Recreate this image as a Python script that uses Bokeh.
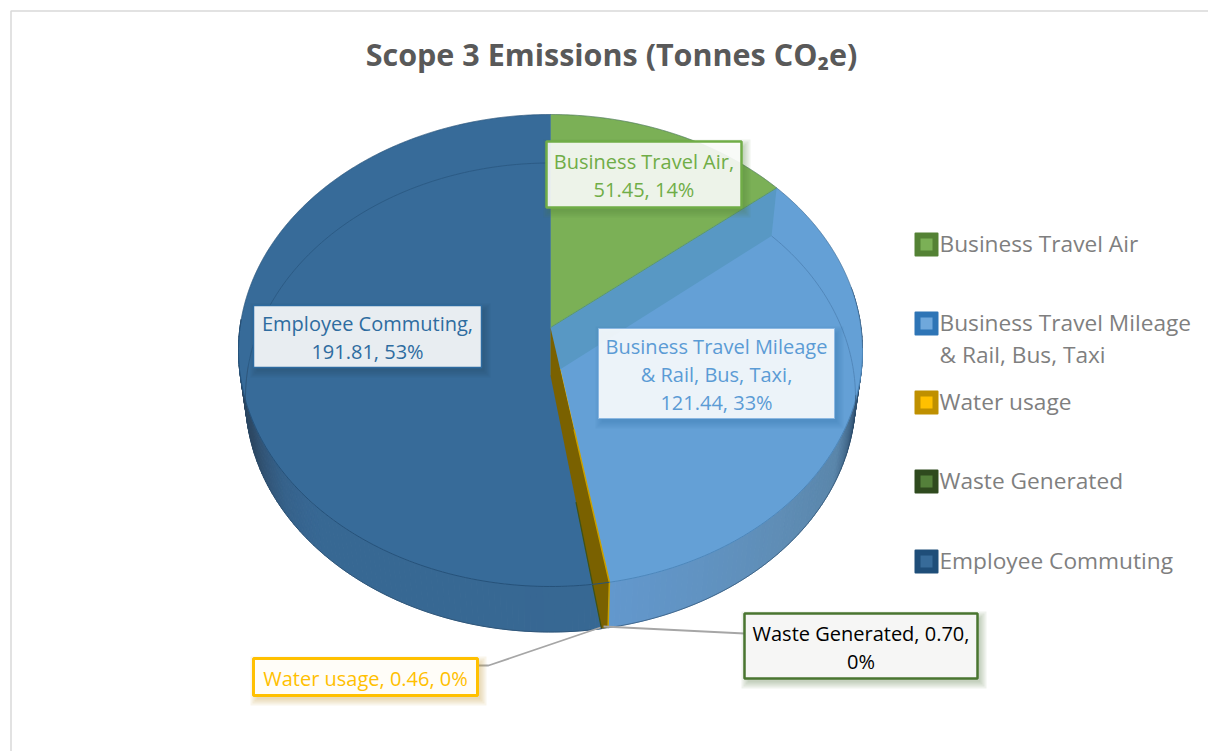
import math
from bokeh.core.properties import value
from bokeh.embed import file_html
from bokeh.models import ColumnDataSource, Range1d
from bokeh.plotting import figure
from bokeh.resources import INLINE

# Scope 3 figures, in pie order (clockwise from twelve o'clock)
categories = ["Business Travel Air", "Business Travel Mileage & Rail, Bus, Taxi",
              "Water usage", "Waste Generated", "Employee Commuting"]
emissions = [51.45, 121.44, 0.46, 0.70, 191.81]
percent_labels = ["14%", "33%", "0%", "0%", "53%"]
title_text = "Scope 3 Emissions (Tonnes CO\u2082e)"

FONT = "Open Sans"
top_colors = ["#7bb056", "#64a0d6", "#ffc000", "#54803a", "#376b99"]
legend_outer = ["#548235", "#2e75b6", "#bf9000", "#2f4a1e", "#1f4e79"]
legend_inner = ["#7bb056", "#6fa8dc", "#ffc000", "#54803a", "#376b99"]

# Projected disc: upper rim, lower rim, and the perspective shift of the hub
CX = 550
TOP_CY, TOP_RX, TOP_RY = 350, 312, 236
LOW_CY, LOW_RX, LOW_RY = 397, 305, 234.5
HUB_SHIFT = 0.097
HUB_TOP = (CX, 327)
HUB_LOW = (CX, 375)


def rim(deg, cy, rx, ry):
    """Project a pie angle (clockwise from north) onto a rim ellipse."""
    t = math.radians(deg)
    e = HUB_SHIFT
    d = 1 + e * math.cos(t)
    return (CX + rx * math.sin(t) * math.sqrt(1 - e * e) / d,
            cy - ry * (math.cos(t) + e) / d)


def upper(deg):
    return rim(deg, TOP_CY, TOP_RX, TOP_RY)


def lower(deg):
    return rim(deg, LOW_CY, LOW_RX, LOW_RY)


def frange(a, b, step=1.0):
    n = max(2, int(abs(b - a) / step) + 1)
    return [a + (b - a) * i / (n - 1) for i in range(n)]


def mix(stops, u):
    for (u0, c0), (u1, c1) in zip(stops, stops[1:]):
        if u <= u1:
            k = (u - u0) / (u1 - u0)
            rgb = [int(int(c0[i:i + 2], 16) * (1 - k) + int(c1[i:i + 2], 16) * k) for i in (1, 3, 5)]
            return "#%02x%02x%02x" % tuple(rgb)
    return stops[-1][1]


total = sum(emissions)
edges = [0.0]
for v in emissions:
    edges.append(edges[-1] + v / total * 360)

p = figure(width=1208, height=751, output_backend="svg", toolbar_location=None,
           x_range=Range1d(0, 1208), y_range=Range1d(751, 0),
           x_axis_type=None, y_axis_type=None, min_border=0,
           outline_line_color=None, background_fill_color="white", border_fill_color="white")
p.grid.visible = False

# Card frame
p.line([10.5, 10.5, 1208], [751, 10.5, 10.5], line_color="#d9d9d9", line_width=1.5)

# Outer wall, shaded along the arc
wall_blue = [(80, "#24405e"), (105, "#2f5070"), (118, "#5a86ab"), (135, "#5f8db5"), (172, "#6399cf")]
wall_navy = [(171, "#376893"), (225, "#386894"), (235, "#36628b"), (250, "#2e4a66"), (272, "#263f58")]
for a, b, stops in [(80, edges[2], wall_blue), (edges[4], 272, wall_navy)]:
    angles = frange(a, b, 1.0)
    xs, ys, cs = [], [], []
    for a0, a1 in zip(angles, angles[1:]):
        pts = [upper(a0), upper(a1), lower(a1), lower(a0)]
        xs.append([q[0] for q in pts])
        ys.append([q[1] for q in pts])
        cs.append(mix(stops, (a0 + a1) / 2))
    p.patches(xs, ys, fill_color=cs, line_color=cs, line_width=1)

# Pie faces, each sweep taken from the emission values
for i in range(len(emissions)):
    arc = [upper(a) for a in frange(edges[i], edges[i + 1], 0.5)]
    p.patch([HUB_TOP[0]] + [q[0] for q in arc], [HUB_TOP[1]] + [q[1] for q in arc],
            fill_color=top_colors[i], line_color=top_colors[i], line_width=0.5)

# Cut face of the blue slice where it leaves the green one
cut = [HUB_TOP, upper(edges[1]), lower(edges[1]), HUB_LOW]
p.patch([q[0] for q in cut], [q[1] for q in cut], fill_color="#5898c4", line_color=None)
p.line([upper(edges[1])[0], HUB_TOP[0]], [upper(edges[1])[1], HUB_TOP[1]], line_color="#5f9a62", line_width=1)

# Cut face along the water and waste slivers
sliver = [HUB_TOP, upper(edges[2]), lower(edges[2]), lower(edges[4]), HUB_LOW]
p.patch([q[0] for q in sliver], [q[1] for q in sliver], fill_color="#7a6100", line_color=None)
rim_a, rim_b = upper(edges[2]), lower(edges[2])
yellow_x = HUB_TOP[0] + (rim_a[0] - HUB_TOP[0]) * 0.4
yellow_y = HUB_TOP[1] + (rim_a[1] - HUB_TOP[1]) * 0.4
p.line([yellow_x, rim_a[0], rim_b[0]], [yellow_y, rim_a[1], rim_b[1]], line_color="#c9a000", line_width=1.5)
end_low = lower(edges[4])
p.line([HUB_LOW[0] + (end_low[0] - HUB_LOW[0]) * 0.5, end_low[0]],
       [HUB_LOW[1] + (end_low[1] - HUB_LOW[1]) * 0.5, end_low[1]], line_color="#3f5215", line_width=1.2)

# Rim lines: lower rim seen through the disc, upper rim on the front, fine silhouette
for a, b, col in [(edges[1], 95, "#5288bb"), (272, 360, "#2c5b85")]:
    pts = [lower(t) for t in frange(a, b, 1)]
    p.line([q[0] for q in pts], [q[1] for q in pts], line_color=col, line_width=1)
for a, b, col in [(95, edges[2], "#4d87bb"), (edges[2], 272, "#26527a")]:
    pts = [upper(t) for t in frange(a, b, 1)]
    p.line([q[0] for q in pts], [q[1] for q in pts], line_color=col, line_width=1)
pts = [lower(t) for t in frange(95, 272, 1)]
p.line([q[0] for q in pts], [q[1] for q in pts], line_color="#2a4a68", line_width=1, line_alpha=0.6)
pts = [upper(t) for t in frange(-90, 95, 1)]
p.line([q[0] for q in pts], [q[1] for q in pts], line_color="#2a4a68", line_width=1, line_alpha=0.35)

# Leader lines for the two tiny slices
p.line([600, 488, 477], [627, 665, 665], line_color="#a6a6a6", line_width=1.8)
p.line([603, 744], [626, 633], line_color="#a6a6a6", line_width=1.8)

# Data labels: (left, right, top, bottom), border, fill, alpha, text colour, shadow
label_boxes = [
    (546, 741, 141, 207, "#70ad47", 2.5, "#ffffff", 0.88, "#70ad47", "#4f7a33"),
    (598, 834, 328, 418, "#8cb8e2", 1, "#ffffff", 0.89, "#5b9bd5", "#2f6ea8"),
    (253, 477, 658, 695, "#ffc000", 3, "#fffdf8", 1, "#ffc000", "#b89020"),
    (744, 977, 613, 678, "#4a7530", 2.5, "#f6f6f5", 1, "#000000", "#4a6a35"),
    (253, 481, 305, 367, "#2e6ba0", 1.5, "#ffffff", 0.89, "#2e6ca0", "#1d3f5e"),
]
label_lines = [
    ["Business Travel Air,", f"{emissions[0]:.2f}, {percent_labels[0]}"],
    ["Business Travel Mileage", "& Rail, Bus, Taxi,", f"{emissions[1]:.2f}, {percent_labels[1]}"],
    [f"Water usage, {emissions[2]:.2f}, {percent_labels[2]}"],
    [f"Waste Generated, {emissions[3]:.2f},", percent_labels[3]],
    ["Employee Commuting,", f"{emissions[4]:.2f}, {percent_labels[4]}"],
]
LINE_GAP = 28
LABEL_SIZE = "20px"
for (l, r, t, b, edge, lw, fill, alpha, tcol, shade), lines in zip(label_boxes, label_lines):
    for grow in (6, 4, 2, 0):
        p.quad(left=l + 3 - grow, right=r + 3 + grow, top=t + 4 - grow, bottom=b + 4 + grow,
               fill_color=shade, fill_alpha=0.09, line_color=None)
    p.quad(left=l, right=r, top=t, bottom=b, fill_color=fill, fill_alpha=alpha,
           line_color=edge, line_width=lw)
    mid = (t + b) / 2
    src = ColumnDataSource(dict(
        x=[(l + r) / 2] * len(lines),
        y=[mid + 1 + (k - (len(lines) - 1) / 2) * LINE_GAP for k in range(len(lines))],
        text=lines))
    p.text("x", "y", "text", source=src, text_color=tcol, text_align="center",
           text_baseline="middle", text_font=value(FONT), text_font_size=LABEL_SIZE)

# Legend
legend_rows = [["Business Travel Air"], ["Business Travel Mileage", "& Rail, Bus, Taxi"],
               ["Water usage"], ["Waste Generated"], ["Employee Commuting"]]
legend_y = [244, 323, 402, 481, 561]
for y, outer, inner, rows in zip(legend_y, legend_outer, legend_inner, legend_rows):
    p.quad(left=915, right=937, top=y - 11, bottom=y + 11, fill_color=outer,
           line_color=outer, line_width=2, line_join="round")
    p.quad(left=920, right=932, top=y - 6, bottom=y + 6, fill_color=inner, line_color=None)
    src = ColumnDataSource(dict(x=[939] * len(rows), y=[y - 1 + 32 * k for k in range(len(rows))], text=rows))
    p.text("x", "y", "text", source=src, text_color="#7f7f7f", text_align="left",
           text_baseline="middle", text_font=value(FONT), text_font_size="22.7px")

# Title
p.text([611], [53], [title_text], text_color="#595959", text_align="center", text_baseline="middle",
       text_font=value(FONT), text_font_size="30.5px", text_font_style="bold")

open("out.html", "w").write(file_html(p, INLINE))
